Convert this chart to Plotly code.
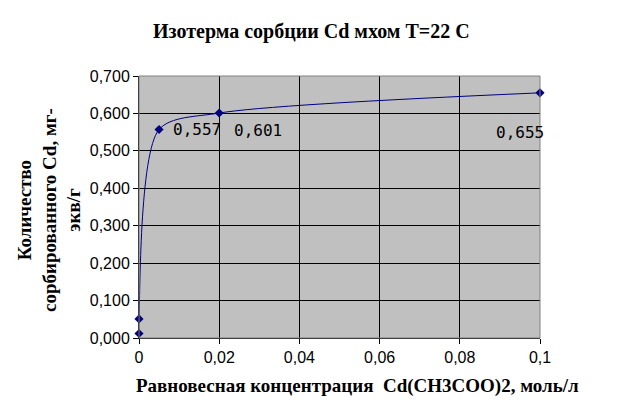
import plotly.graph_objects as go

x_conc = [0.0, 0.0, 0.005, 0.02, 0.1]
y_sorb = [0.012, 0.051, 0.557, 0.601, 0.655]
point_labels = ["", "", "0,557", "0,601", "0,655"]

x_ticks = [0, 0.02, 0.04, 0.06, 0.08, 0.1]
x_ticktext = ["0", "0,02", "0,04", "0,06", "0,08", "0,1"]
y_ticks = [0, 0.1, 0.2, 0.3, 0.4, 0.5, 0.6, 0.7]

title = "Изотерма сорбции Cd мхом Т=22 С"
x_title = "Равновесная концентрация  Cd(CH3COO)2, моль/л"
y_title = "Количество<br>сорбированного Cd, мг-<br>экв/г"

# page offset (body margin) compensation
OFF = 8
PL, PR, PT, PB = 139, 540, 76, 338  # plot area in page pixels
W, H = 627, 411
ml, mt = PL - OFF, PT - OFF
pw, ph = PR - PL, PB - PT
mr, mb = W - ml - pw, H - mt - ph

def px(xp): return (xp - PL) / pw
def py(yp): return (PB - yp) / ph

fig = go.Figure()
fig.add_trace(go.Scatter(
    x=x_conc, y=y_sorb, mode="lines+markers",
    line=dict(color="#000080", width=1, shape="spline", smoothing=0.8),
    marker=dict(symbol="diamond", size=7, color="#000080"),
    cliponaxis=False, showlegend=False,
))

# label placement offsets (pixels) per point
label_style = {
    2: dict(xanchor="left", xshift=12, yshift=0),
    3: dict(xanchor="left", xshift=13, yshift=-17),
    4: dict(xanchor="right", xshift=6, yshift=-40),
}
annos = []
for i, lab in enumerate(point_labels):
    if not lab:
        continue
    st = label_style[i]
    annos.append(dict(text=lab, x=x_conc[i], y=y_sorb[i], xref="x", yref="y",
                      showarrow=False, yanchor="middle",
                      font=dict(family="DejaVu Sans Mono", size=16, color="black"), **st))

annos += [
    dict(text="<b>" + title + "</b>", x=px(311), y=py(32), xref="paper", yref="paper",
         xanchor="center", yanchor="middle",
         showarrow=False, font=dict(family="Liberation Serif", size=20)),
    dict(text="<b>" + x_title + "</b>", x=px(357), y=py(386), xref="paper", yref="paper",
         xanchor="center", yanchor="middle",
         showarrow=False, font=dict(family="Liberation Serif", size=19)),
    dict(text="<b>" + y_title + "</b>", x=px(49), y=py(210), xref="paper", yref="paper",
         xanchor="center", yanchor="middle",
         showarrow=False, textangle=-90, font=dict(family="Liberation Serif", size=19)),
]

fig.update_layout(
    width=W, height=H,
    margin=dict(l=ml, r=mr, t=mt, b=mb),
    paper_bgcolor="white", plot_bgcolor="#C0C0C0",
    separators=", ",
    font=dict(family="Liberation Sans", size=16, color="black"),
    annotations=annos,
)

fig.update_xaxes(range=[0, 0.1], tickvals=x_ticks, ticktext=x_ticktext,
                 showgrid=True, gridcolor="black", gridwidth=1,
                 showline=True, linecolor="black", ticks="outside", ticklen=5,
                 tickcolor="black", mirror=False, zeroline=False)
fig.update_yaxes(range=[0, 0.7], tickvals=y_ticks, tickformat=".3f",
                 showgrid=True, gridcolor="black", gridwidth=1,
                 showline=True, linecolor="black", ticks="outside", ticklen=5,
                 tickcolor="black", zeroline=False)
fig.add_shape(type="rect", xref="paper", yref="paper", x0=0, y0=0, x1=1, y1=1,
              line=dict(color="#808080", width=1), layer="above")

fig.write_html("out.html")
